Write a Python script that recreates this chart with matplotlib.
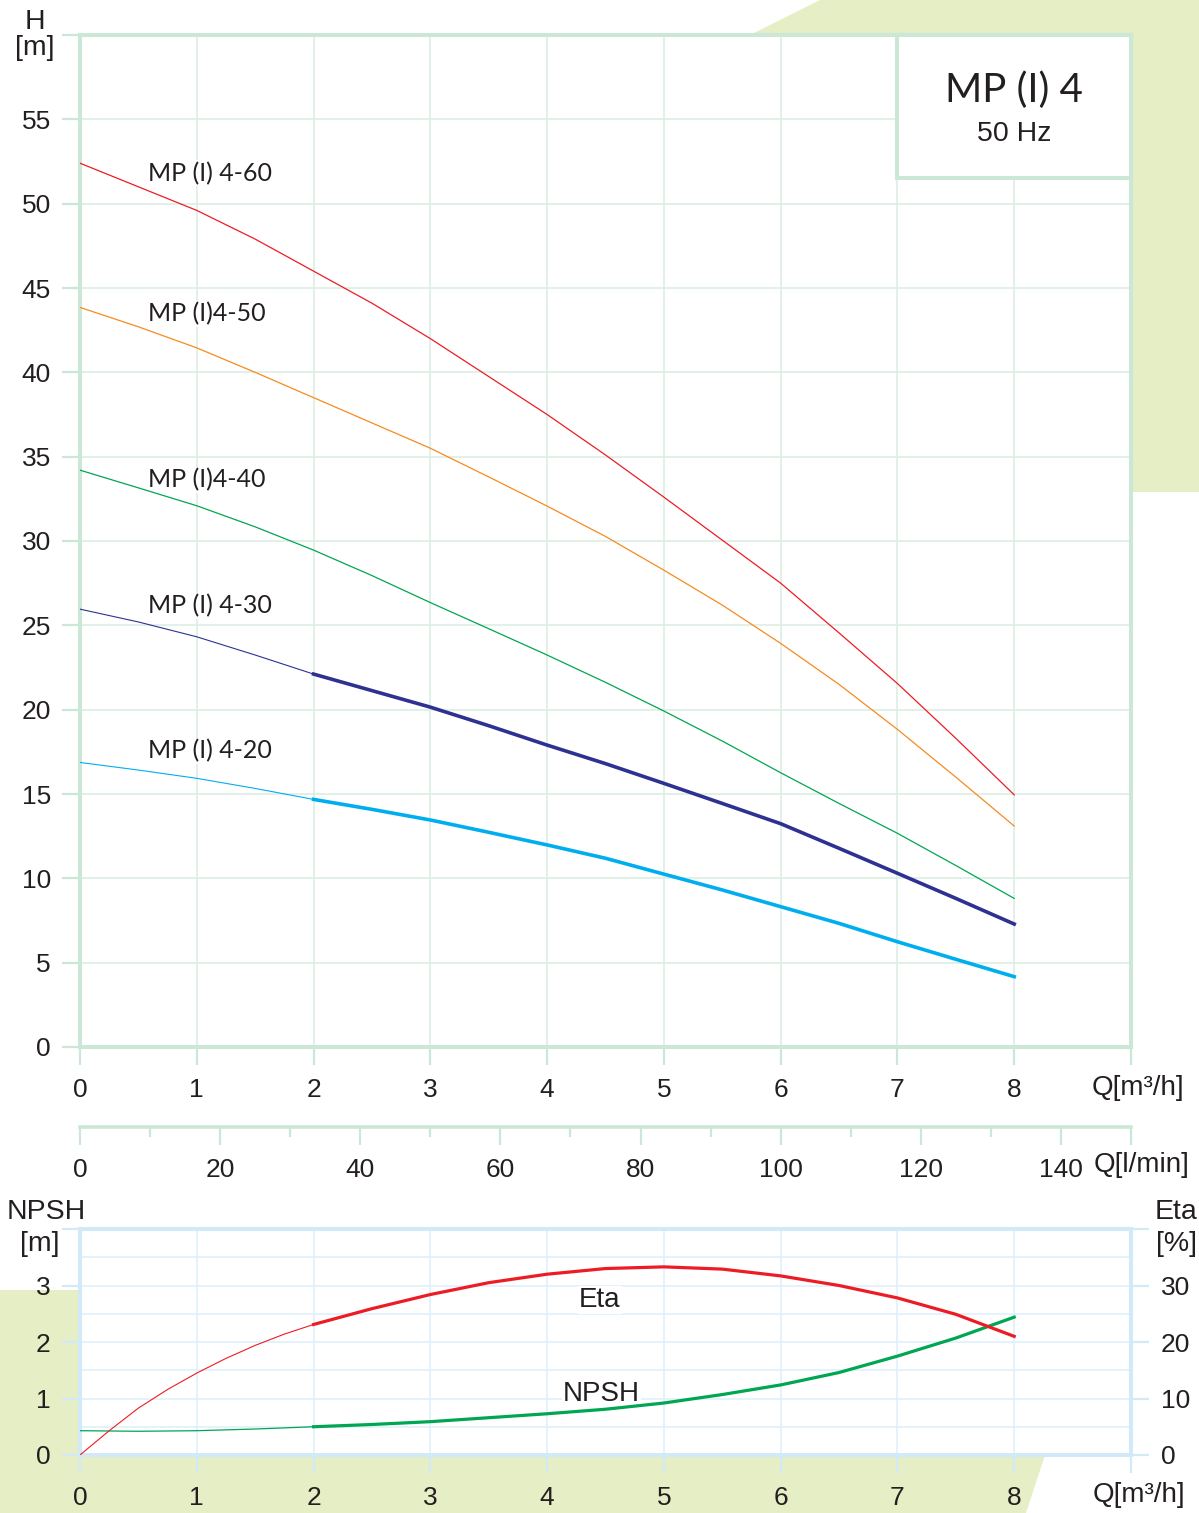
import matplotlib
matplotlib.use("Agg")
import matplotlib.pyplot as plt
from matplotlib.patches import Polygon, Rectangle
from matplotlib.ticker import MultipleLocator, FixedLocator

plt.rcParams['font.family'] = ['Liberation Sans', 'DejaVu Sans']

# ---------------- data ----------------
Q = [0, 0.5, 1, 1.5, 2, 2.5, 3, 3.5, 4, 4.5, 5, 5.5, 6, 6.5, 7, 7.5, 8]
H60 = [52.4, 51.0, 49.6, 47.9, 46.0, 44.1, 42.0, 39.75, 37.5, 35.1, 32.6, 30.05, 27.5, 24.55, 21.55, 18.3, 14.95]
H50 = [43.85, 42.7, 41.45, 40.0, 38.5, 37.0, 35.5, 33.8, 32.07, 30.27, 28.27, 26.2, 23.93, 21.5, 18.83, 16.0, 13.1]
H40 = [34.2, 33.15, 32.09, 30.84, 29.46, 27.95, 26.35, 24.8, 23.24, 21.62, 19.92, 18.14, 16.26, 14.44, 12.67, 10.76, 8.81]
H30 = [25.96, 25.2, 24.32, 23.24, 22.11, 21.13, 20.15, 19.05, 17.9, 16.8, 15.63, 14.44, 13.24, 11.78, 10.3, 8.81, 7.29]
H20 = [16.87, 16.42, 15.93, 15.33, 14.68, 14.09, 13.46, 12.73, 11.98, 11.19, 10.25, 9.31, 8.32, 7.33, 6.24, 5.2, 4.17]
NPSH = [0.43, 0.42, 0.43, 0.46, 0.50, 0.54, 0.59, 0.66, 0.73, 0.81, 0.92, 1.07, 1.24, 1.46, 1.75, 2.07, 2.44]
Q_eta = [0, 0.25, 0.5, 0.75, 1, 1.25, 1.5, 1.75, 2, 2.5, 3, 3.5, 4, 4.5, 5, 5.5, 6, 6.5, 7, 7.5, 8]
ETA = [0, 4.3, 8.3, 11.6, 14.5, 17.1, 19.4, 21.4, 23.1, 25.9, 28.4, 30.5, 32.0, 33.0, 33.3, 32.9, 31.7, 30.0, 27.8, 24.9, 21.0]

curve_names = ["MP (I) 4-60", "MP (I)4-50", "MP (I)4-40", "MP (I) 4-30", "MP (I) 4-20"]
curve_label_y = [51.35, 43.0, 33.18, 25.71, 17.11]

H_ticks = list(range(0, 61, 5))
H_ticklabels = [str(v) for v in range(0, 56, 5)] + [""]
Q_ticks = list(range(0, 10))
Q_ticklabels = [str(v) for v in range(0, 9)] + [""]
L_ticks = [0, 20, 40, 60, 80, 100, 120, 140, 150]
L_ticklabels = ["0", "20", "40", "60", "80", "100", "120", "140", ""]
N_ticks = [0, 1, 2, 3, 4]
N_ticklabels = ["0", "1", "2", "3", ""]
E_ticks = [0, 10, 20, 30, 40]
E_ticklabels = ["0", "10", "20", "30", ""]

# ---------------- styles ----------------
W, Hpx = 1199, 1513
TXT = "#231f20"
GFRAME = "#cbe7d5"
GGRID = "#d9eee1"
BFRAME = "#d2eaf8"
BGRID = "#dcf0fb"
BGGREEN = "#e5eec4"
RED = "#ed1c24"
ORANGE = "#f68b1f"
GREEN = "#00a651"
NAVY = "#2e3192"
CYAN = "#00aeef"
TICKFS = 19
TITLEFS = 20.5

fig = plt.figure(figsize=(W / 100, Hpx / 100), dpi=100)
fig.patch.set_facecolor("white")


def fx(x):
    return x / W


def fy(y):
    return 1 - y / Hpx


# background decorations
fig.add_artist(Polygon([(fx(752), fy(34)), (fx(820), fy(0)), (fx(1199), fy(0)), (fx(1199), fy(492)),
                        (fx(1131), fy(492)), (fx(1131), fy(34))], closed=True,
                       transform=fig.transFigure, facecolor=BGGREEN, edgecolor="none", zorder=-5))
fig.add_artist(Polygon([(fx(0), fy(1290)), (fx(80), fy(1290)), (fx(80), fy(1455)), (fx(1045), fy(1455)),
                        (fx(1026), fy(1513)), (fx(0), fy(1513))], closed=True,
                       transform=fig.transFigure, facecolor=BGGREEN, edgecolor="none", zorder=-5))

# ---------------- main axes ----------------
ax = fig.add_axes([fx(80), fy(1047), (1131 - 80) / W, (1047 - 35) / Hpx])
ax.set_facecolor("white")
ax.set_xlim(0, 9)
ax.set_ylim(0, 60)
for s in ax.spines.values():
    s.set_color(GFRAME)
    s.set_linewidth(2.9)
ax.set_xticks(Q_ticks)
ax.set_xticklabels(Q_ticklabels)
ax.set_yticks(H_ticks)
ax.set_yticklabels(H_ticklabels)
ax.tick_params(axis='both', direction='out', length=13, width=1.6, color=GFRAME,
               labelsize=TICKFS, labelcolor=TXT)
ax.tick_params(axis='x', pad=9.5)
ax.tick_params(axis='y', pad=8)
ax.grid(True, color=GGRID, linewidth=1.1)
ax.set_axisbelow(True)

ax.plot(Q, H60, color=RED, lw=0.9, zorder=3)
ax.plot(Q, H50, color=ORANGE, lw=0.9, zorder=3)
ax.plot(Q, H40, color=GREEN, lw=0.9, zorder=3)
ax.plot(Q[:5], H30[:5], color=NAVY, lw=0.8, zorder=3)
ax.plot(Q[4:], H30[4:], color=NAVY, lw=2.6, zorder=3)
ax.plot(Q[:5], H20[:5], color=CYAN, lw=0.8, zorder=3)
ax.plot(Q[4:], H20[4:], color=CYAN, lw=2.6, zorder=3)

for name, yv in zip(curve_names, curve_label_y):
    ax.text(0.582, yv, name, family=['Lato', 'DejaVu Sans'], fontsize=18, color=TXT,
            ha='left', va='baseline', zorder=2.5,
            bbox=dict(facecolor='white', edgecolor='none', pad=1.0))

box = Rectangle((7, 51.5), 2, 8.5, facecolor='white', edgecolor=GFRAME, linewidth=2.9,
                zorder=5, clip_on=False)
ax.add_patch(box)
ax.text(8, 56.75, "MP (I) 4", family=['Lato', 'DejaVu Sans'], fontsize=29, color=TXT,
        ha='center', va='center', zorder=6)
ax.text(8, 54.15, "50 Hz", fontsize=20.5, color=TXT, ha='center', va='center', zorder=6)

fig.text(fx(35), fy(22), "H", fontsize=TITLEFS, color=TXT, ha='center', va='center')
fig.text(fx(35), fy(48), "[m]", fontsize=TITLEFS, color=TXT, ha='center', va='center')
fig.text(fx(1092), fy(1088), "Q[m³/h]", fontsize=20, color=TXT, ha='left', va='center')

# ---------------- l/min axis ----------------
axl = fig.add_axes([fx(80), fy(1127), (1131 - 80) / W, 0.0005])
axl.patch.set_visible(False)
axl.set_xlim(0, 150)
axl.set_ylim(0, 1)
for k in ['left', 'right', 'top']:
    axl.spines[k].set_visible(False)
axl.spines['bottom'].set_color(GFRAME)
axl.spines['bottom'].set_linewidth(2.6)
axl.set_yticks([])
axl.xaxis.set_major_locator(FixedLocator(L_ticks))
axl.set_xticklabels(L_ticklabels)
axl.xaxis.set_minor_locator(FixedLocator([10, 30, 50, 70, 90, 110, 130]))
axl.tick_params(axis='x', which='major', direction='out', length=13, width=1.6, color=GFRAME,
                labelsize=TICKFS, labelcolor=TXT, pad=9.5)
axl.tick_params(axis='x', which='minor', direction='out', length=7.5, width=1.6, color=GFRAME)
fig.text(fx(1094), fy(1165), "Q[l/min]", fontsize=20, color=TXT, ha='left', va='center')

# ---------------- lower axes ----------------
axb = fig.add_axes([fx(80), fy(1455), (1131 - 80) / W, (1455 - 1229) / Hpx])
axb.set_facecolor("white")
axb.set_xlim(0, 9)
axb.set_ylim(0, 4)
for s in axb.spines.values():
    s.set_color(BFRAME)
    s.set_linewidth(2.9)
axb.set_xticks(Q_ticks)
axb.set_xticklabels(Q_ticklabels)
axb.set_yticks(N_ticks)
axb.set_yticklabels(N_ticklabels)
axb.yaxis.set_minor_locator(MultipleLocator(0.5))
axb.tick_params(axis='both', which='major', direction='out', length=13, width=1.6, color=BFRAME,
                labelsize=TICKFS, labelcolor=TXT)
axb.tick_params(axis='y', which='minor', length=0)
axb.tick_params(axis='x', pad=9.5)
axb.tick_params(axis='y', pad=8)
axb.grid(True, which='both', color=BGRID, linewidth=1.1)
axb.set_axisbelow(True)

axe = axb.twinx()
axe.set_ylim(0, 40)
for s in axe.spines.values():
    s.set_visible(False)
axe.set_yticks(E_ticks)
axe.set_yticklabels(E_ticklabels)
axe.tick_params(axis='y', direction='out', length=13, width=1.6, color=BFRAME,
                labelsize=TICKFS, labelcolor=TXT, pad=8.5)

axb.plot(Q[:5], NPSH[:5], color=GREEN, lw=0.9, zorder=3)
axb.plot(Q[4:], NPSH[4:], color=GREEN, lw=2.3, zorder=3)
axe.plot(Q_eta[:9], ETA[:9], color=RED, lw=0.8, zorder=3)
axe.plot(Q_eta[8:], ETA[8:], color=RED, lw=2.3, zorder=3)

axb.text(4.45, 2.62, "Eta", fontsize=20, color=TXT, ha='center', va='baseline', zorder=2,
         bbox=dict(facecolor='white', edgecolor='none', pad=1.0))
axb.text(4.465, 0.964, "NPSH", fontsize=20, color=TXT, ha='center', va='baseline', zorder=2,
         bbox=dict(facecolor='white', edgecolor='none', pad=1.0))

fig.text(fx(46), fy(1212), "NPSH", fontsize=TITLEFS, color=TXT, ha='center', va='center')
fig.text(fx(40), fy(1244), "[m]", fontsize=TITLEFS, color=TXT, ha='center', va='center')
fig.text(fx(1176), fy(1212), "Eta", fontsize=TITLEFS, color=TXT, ha='center', va='center')
fig.text(fx(1176), fy(1244), "[%]", fontsize=TITLEFS, color=TXT, ha='center', va='center')
fig.text(fx(1093), fy(1495), "Q[m³/h]", fontsize=20, color=TXT, ha='left', va='center')

fig.savefig("out.png", dpi=100, facecolor="white")
